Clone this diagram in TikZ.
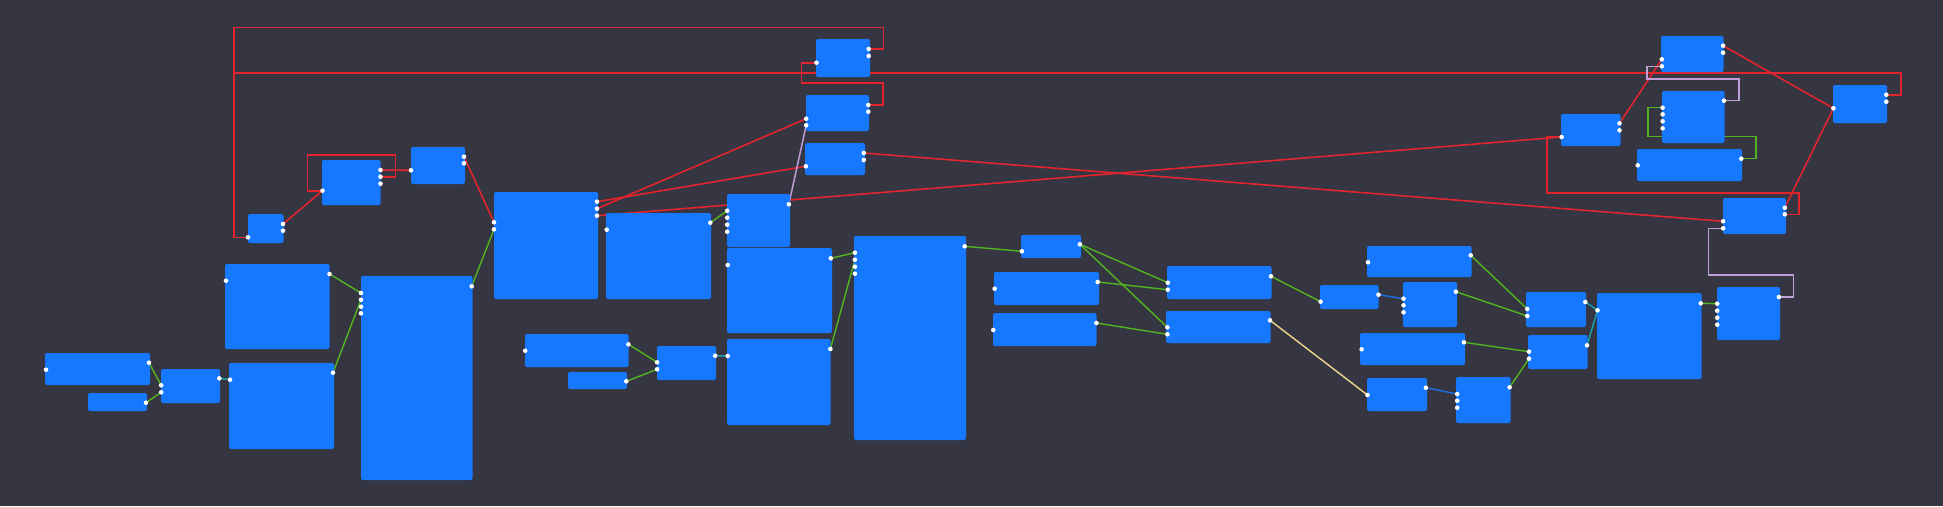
\documentclass[tikz,border=0pt]{standalone}
\definecolor{bgc}{RGB}{53,54,66}
\definecolor{nblue}{RGB}{22,119,255}
\definecolor{lred}{RGB}{226,36,46}
\definecolor{lgreen}{RGB}{82,180,30}
\definecolor{lpurple}{RGB}{190,160,215}
\definecolor{lyellow}{RGB}{240,215,140}
\definecolor{lteal}{RGB}{20,165,175}
\definecolor{lblue}{RGB}{30,110,230}
\tikzset{
  gbox/.style={fill=nblue, draw=none, inner sep=0pt, outer sep=0pt, rounded corners=2pt},
  redl/.style={draw=lred, line width=1.6pt},
  greenl/.style={draw=lgreen, line width=1.4pt},
  purpl/.style={draw=lpurple, line width=1.5pt},
  yell/.style={draw=lyellow, line width=1.4pt},
  teall/.style={draw=lteal, line width=1.4pt},
  bluel/.style={draw=lblue, line width=1.4pt},
  portdot/.style={fill=white}
}
\newcommand\gnode[5]{\node[gbox, anchor=north west, minimum width={(#4-#2)*1pt}, minimum height={(#5-#3)*1pt}] (#1) at (#2,#3) {};}
\begin{document}
\begin{tikzpicture}[x=1pt,y=-1pt]
\fill[bgc] (0,0) rectangle (1943,506);
\useasboundingbox (0,0) rectangle (1943,506);
% ports
\coordinate (A-i1) at (248,237.3);
\coordinate (A-o1) at (283,224); \coordinate (A-o2) at (283,230.7);
\coordinate (B-i1) at (322.5,190.7);
\coordinate (B-o1) at (380.5,170); \coordinate (B-o2) at (380.5,176.7); \coordinate (B-o3) at (380.5,183.7);
\coordinate (C-i1) at (411,170.3);
\coordinate (C-o1) at (464,156.7); \coordinate (C-o2) at (464,163.3);
\coordinate (D-i1) at (494,222.3); \coordinate (D-i2) at (494,229.3);
\coordinate (D-o1) at (597,201.7); \coordinate (D-o2) at (597,208.7); \coordinate (D-o3) at (597,215.7);
\coordinate (E-i1) at (361,293); \coordinate (E-i2) at (361,299.7); \coordinate (E-i3) at (361,306.7); \coordinate (E-i4) at (361,313.3);
\coordinate (E-o1) at (471.7,286.3);
\coordinate (F-i1) at (226,280.7); \coordinate (F-o1) at (329.5,274);
\coordinate (G-i1) at (230,379.7); \coordinate (G-o1) at (333,372.7);
\coordinate (H-i1) at (161.2,385.3); \coordinate (H-i2) at (161.2,392.3); \coordinate (H-o1) at (219.3,378.3);
\coordinate (I-i1) at (46,369.7); \coordinate (I-o1) at (149,362.7);
\coordinate (J-o1) at (146,402.7);
\coordinate (K-i1) at (606.7,229.7); \coordinate (K-o1) at (710.3,222.7);
\coordinate (L-i1) at (525.2,350.7); \coordinate (L-o1) at (628.4,344.3);
\coordinate (M-o1) at (626.3,381.3);
\coordinate (N-i1) at (816.5,62.7); \coordinate (N-o1) at (868.7,49); \coordinate (N-o2) at (868.7,56);
\coordinate (O-i1) at (806.2,118.7); \coordinate (O-i2) at (806.2,125.3);
\coordinate (O-o1) at (868.3,105); \coordinate (O-o2) at (868.3,111.7);
\coordinate (P-i1) at (805.8,166.3); \coordinate (P-o1) at (863.8,153); \coordinate (P-o2) at (863.8,160);
\coordinate (Q-i1) at (727.2,210.7); \coordinate (Q-i2) at (727.2,217.7); \coordinate (Q-i3) at (727.2,224.7); \coordinate (Q-i4) at (727.2,231.7);
\coordinate (Q-o1) at (788.8,204.3);
\coordinate (T-i1) at (727.7,265); \coordinate (T-o1) at (830.8,258.3);
\coordinate (U-i1) at (854.9,252.7); \coordinate (U-i2) at (854.9,259.7); \coordinate (U-i3) at (854.9,266.7); \coordinate (U-i4) at (854.9,273.7);
\coordinate (U-o1) at (964.7,246.3);
\coordinate (V-i1) at (727.7,356); \coordinate (V-o1) at (830.4,349);
\coordinate (W-i1) at (657.1,362.3); \coordinate (W-i2) at (657.1,369.3); \coordinate (W-o1) at (715.2,355.7);
\coordinate (X-i1) at (1021.9,251.3); \coordinate (X-o1) at (1079.9,244.3);
\coordinate (Y-i1) at (994.6,288.7); \coordinate (Y-o1) at (1097.7,282);
\coordinate (Z-i1) at (993.3,330); \coordinate (Z-o1) at (1096.4,323);
\coordinate (AA-i1) at (1167.8,282.7); \coordinate (AA-i2) at (1167.8,289.7); \coordinate (AA-o1) at (1271,276.3);
\coordinate (AB-i1) at (1167.4,327.3); \coordinate (AB-i2) at (1167.4,334.3); \coordinate (AB-o1) at (1270,320.3);
\coordinate (AC-i1) at (1833.4,108.3); \coordinate (AC-o1) at (1886.3,94.7); \coordinate (AC-o2) at (1886.3,101.7);
\coordinate (AD-i1) at (1661.8,59.3); \coordinate (AD-i2) at (1661.8,66.3);
\coordinate (AD-o1) at (1723.1,45.7); \coordinate (AD-o2) at (1723.1,52.7);
\coordinate (AE-i1) at (1662.6,107.7); \coordinate (AE-i2) at (1662.6,114.3); \coordinate (AE-i3) at (1662.6,121.3); \coordinate (AE-i4) at (1662.6,128.3);
\coordinate (AE-o1) at (1724,100.7);
\coordinate (AF-i1) at (1637.7,165.3); \coordinate (AF-o1) at (1741.3,158.7);
\coordinate (R-i1) at (1561.6,137); \coordinate (R-o1) at (1619.5,123.3); \coordinate (R-o2) at (1619.5,130.3);
\coordinate (S-i1) at (1723.1,221.3); \coordinate (S-i2) at (1723.1,228.3);
\coordinate (S-o1) at (1784.8,207.7); \coordinate (S-o2) at (1784.8,214.3);
\coordinate (AG-i1) at (1717.2,303.7); \coordinate (AG-i2) at (1717.2,310.7); \coordinate (AG-i3) at (1717.2,317.7); \coordinate (AG-i4) at (1717.2,324.7);
\coordinate (AG-o1) at (1778.9,297);
\coordinate (AH-i1) at (1597.5,310.3); \coordinate (AH-o1) at (1700.7,303.3);
\coordinate (AI-i1) at (1527.3,309); \coordinate (AI-i2) at (1527.3,316); \coordinate (AI-o1) at (1585.3,302);
\coordinate (AJ-i1) at (1529,351.7); \coordinate (AJ-i2) at (1529,358.7); \coordinate (AJ-o1) at (1587,345.3);
\coordinate (AK-i1) at (1368,262.3); \coordinate (AK-o1) at (1470.7,255.3);
\coordinate (AL-i1) at (1320.6,301.7); \coordinate (AL-o1) at (1378.5,294.7);
\coordinate (AM-i1) at (1403.5,298.7); \coordinate (AM-i2) at (1403.5,305.3); \coordinate (AM-i3) at (1403.5,312.3);
\coordinate (AM-o1) at (1455.9,291.7);
\coordinate (AN-i1) at (1361.6,349.3); \coordinate (AN-o1) at (1463.9,342.3);
\coordinate (AO-i1) at (1367.5,395); \coordinate (AO-o1) at (1425.9,387.7);
\coordinate (AP-i1) at (1457.2,394); \coordinate (AP-i2) at (1457.2,400.7); \coordinate (AP-i3) at (1457.2,407.7);
\coordinate (AP-o1) at (1509.6,387.3);
% red links
\draw[redl] (N-o1) -- (883.5,49) -- (883.5,27.3) -- (233.8,27.3) -- (233.8,237.3) -- (A-i1);
\draw[redl] (AC-o1) -- (1900.7,94.7) -- (1900.7,72.7) -- (233.8,72.7);
\draw[redl] (A-o1) -- (B-i1);
\draw[redl] (B-o2) -- (395.4,176.7) -- (395.4,155) -- (307.6,155) -- (307.6,190.7) -- (B-i1);
\draw[redl] (B-o1) -- (C-i1);
\draw[redl] (C-o1) -- (D-i1);
\draw[redl] (D-o1) -- (P-i1);
\draw[redl] (D-o2) -- (O-i1);
\draw[redl] (D-o3) -- (R-i1);
\draw[redl] (O-o1) -- (883,105) -- (883,83) -- (801.3,83) -- (801.3,62.7) -- (N-i1);
\draw[redl] (P-o1) -- (S-i1);
\draw[redl] (R-o1) -- (AD-i1);
\draw[redl] (AD-o1) -- (AC-i1);
\draw[redl] (S-o1) -- (AC-i1);
\draw[redl] (S-o2) -- (1799.2,214.3) -- (1799.2,192.7) -- (1546.8,192.7) -- (1546.8,137) -- (R-i1);
% purple links
\draw[purpl] (Q-o1) -- (O-i2);
\draw[purpl] (AE-o1) -- (1739.2,100.7) -- (1739.2,79) -- (1647,79) -- (1647,66.3) -- (AD-i2);
\draw[purpl] (AG-o1) -- (1793.7,297) -- (1793.7,275) -- (1708.3,275) -- (1708.3,228.3) -- (S-i2);
% green links
\draw[greenl] (AF-o1) -- (1756,158.7) -- (1756,136.7) -- (1647.8,136.7) -- (1647.8,107.7) -- (AE-i1);
\draw[greenl] (F-o1) -- (E-i1);
\draw[greenl] (G-o1) -- (E-i2);
\draw[greenl] (I-o1) -- (H-i1);
\draw[greenl] (J-o1) -- (H-i2);
\draw[greenl] (E-o1) -- (D-i2);
\draw[greenl] (K-o1) -- (Q-i1);
\draw[greenl] (T-o1) -- (U-i1);
\draw[greenl] (V-o1) -- (U-i2);
\draw[greenl] (L-o1) -- (W-i1);
\draw[greenl] (M-o1) -- (W-i2);
\draw[greenl] (U-o1) -- (X-i1);
\draw[greenl] (X-o1) -- (AA-i1);
\draw[greenl] (X-o1) -- (AB-i1);
\draw[greenl] (Y-o1) -- (AA-i2);
\draw[greenl] (Z-o1) -- (AB-i2);
\draw[greenl] (AA-o1) -- (AL-i1);
\draw[greenl] (AK-o1) -- (AI-i1);
\draw[greenl] (AM-o1) -- (AI-i2);
\draw[greenl] (AN-o1) -- (AJ-i1);
\draw[greenl] (AP-o1) -- (AJ-i2);
\draw[greenl] (AH-o1) -- (AG-i1);
% teal links
\draw[teall] (H-o1) -- (G-i1);
\draw[teall] (W-o1) -- (V-i1);
\draw[teall] (AI-o1) -- (AH-i1);
\draw[teall] (AJ-o1) -- (AH-i1);
% blue links
\draw[bluel] (AL-o1) -- (AM-i1);
\draw[bluel] (AO-o1) -- (AP-i1);
% yellow link
\draw[yell] (AB-o1) -- (AO-i1);
% nodes
\gnode{A}{248}{214}{283.5}{243}
\gnode{B}{322}{160}{380.5}{205}
\gnode{C}{411}{147}{465}{184}
\gnode{D}{494}{192}{598}{299}
\gnode{E}{361}{276}{472.5}{480}
\gnode{F}{225}{264}{329.5}{349}
\gnode{G}{229}{363}{334}{449}
\gnode{H}{161}{369}{220}{403}
\gnode{I}{45}{353}{150}{385}
\gnode{J}{88}{393}{147}{411}
\gnode{K}{606}{213}{711}{299}
\gnode{L}{525}{334}{628.5}{367}
\gnode{M}{568}{372}{627}{389}
\gnode{N}{816}{39}{870}{77}
\gnode{O}{806}{95}{869}{131}
\gnode{P}{805}{143}{865}{175}
\gnode{Q}{727}{194}{790}{247}
\gnode{T}{727}{248}{832}{333}
\gnode{U}{854}{236}{966}{440}
\gnode{V}{727}{339}{830.5}{425}
\gnode{W}{657}{346}{716}{380}
\gnode{X}{1021}{235}{1081}{258}
\gnode{Y}{994}{272}{1099}{305}
\gnode{Z}{993}{313}{1096.5}{346}
\gnode{AA}{1167}{266}{1271.5}{299}
\gnode{AB}{1166}{311}{1270.5}{343}
\gnode{AC}{1833}{85}{1887}{123}
\gnode{AD}{1661}{36}{1723.5}{72}
\gnode{AE}{1662}{91}{1724.5}{143}
\gnode{AF}{1637}{149}{1742}{181}
\gnode{R}{1561}{114}{1620.5}{146}
\gnode{S}{1723}{198}{1786}{234}
\gnode{AG}{1717}{287}{1780}{340}
\gnode{AH}{1597}{293}{1701.5}{379}
\gnode{AI}{1526}{292}{1586}{327}
\gnode{AJ}{1528}{335}{1587.5}{369}
\gnode{AK}{1367}{246}{1471.5}{277}
\gnode{AL}{1320}{285}{1378.5}{309}
\gnode{AM}{1403}{282}{1457}{327}
\gnode{AN}{1360}{333}{1465}{365}
\gnode{AO}{1367}{378}{1427}{411}
\gnode{AP}{1456}{377}{1510.5}{423}
% port dots
\foreach \p in {A-i1,A-o1,A-o2,B-i1,B-o1,B-o2,B-o3,C-i1,C-o1,C-o2,D-i1,D-i2,D-o1,D-o2,D-o3,
  E-i1,E-i2,E-i3,E-i4,E-o1,F-i1,F-o1,G-i1,G-o1,H-i1,H-i2,H-o1,I-i1,I-o1,J-o1,K-i1,K-o1,
  L-i1,L-o1,M-o1,N-i1,N-o1,N-o2,O-i1,O-i2,O-o1,O-o2,P-i1,P-o1,P-o2,Q-i1,Q-i2,Q-i3,Q-i4,Q-o1,
  T-i1,T-o1,U-i1,U-i2,U-i3,U-i4,U-o1,V-i1,V-o1,W-i1,W-i2,W-o1,X-i1,X-o1,Y-i1,Y-o1,Z-i1,Z-o1,
  AA-i1,AA-i2,AA-o1,AB-i1,AB-i2,AB-o1,AC-i1,AC-o1,AC-o2,AD-i1,AD-i2,AD-o1,AD-o2,
  AE-i1,AE-i2,AE-i3,AE-i4,AE-o1,AF-i1,AF-o1,R-i1,R-o1,R-o2,S-i1,S-i2,S-o1,S-o2,
  AG-i1,AG-i2,AG-i3,AG-i4,AG-o1,AH-i1,AH-o1,AI-i1,AI-i2,AI-o1,AJ-i1,AJ-i2,AJ-o1,
  AK-i1,AK-o1,AL-i1,AL-o1,AM-i1,AM-i2,AM-i3,AM-o1,AN-i1,AN-o1,AO-i1,AO-o1,AP-i1,AP-i2,AP-i3,AP-o1}
  \fill[portdot] (\p) circle (2.3pt);
\end{tikzpicture}
\end{document}
